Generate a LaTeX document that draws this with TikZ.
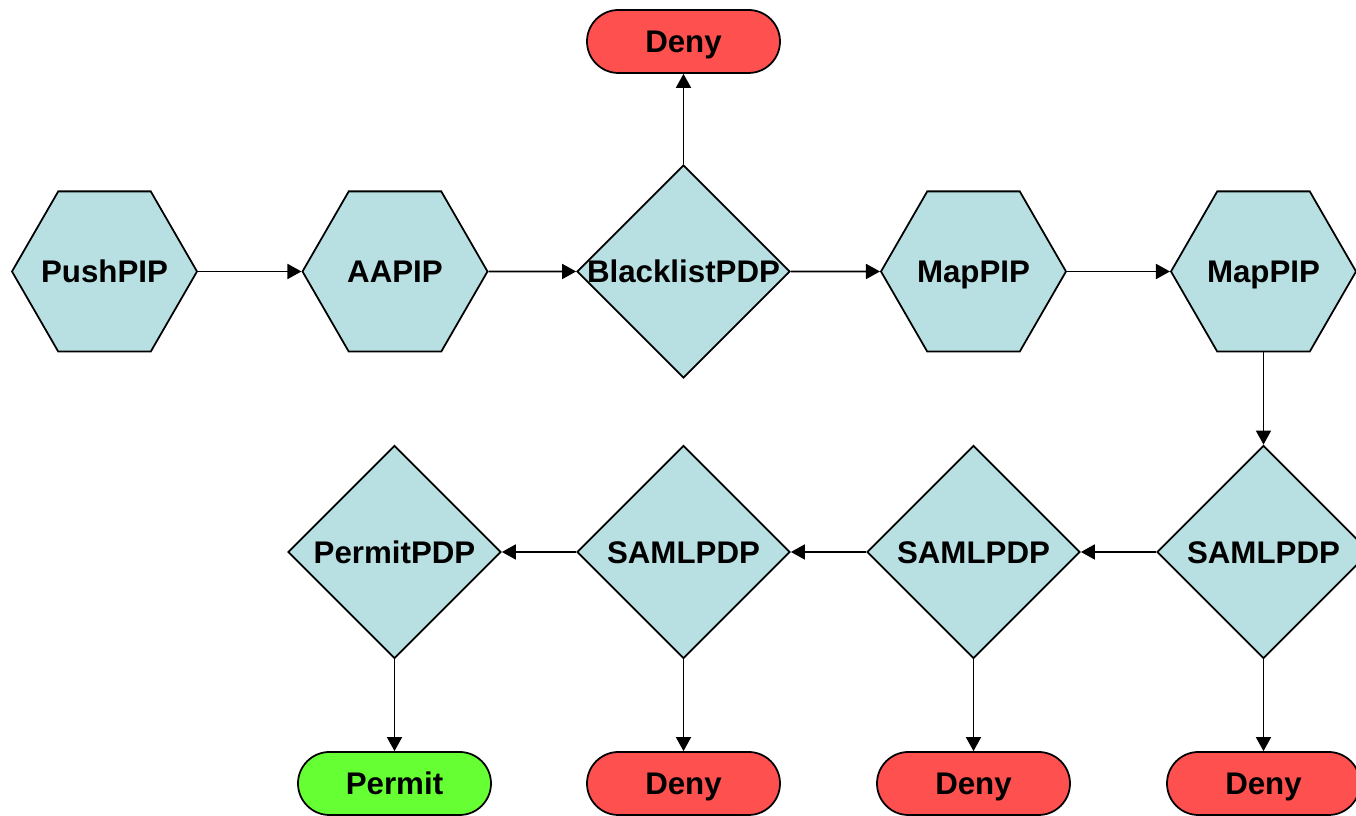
\documentclass[tikz,border=0pt]{standalone}
\usepackage{fontspec}
\setmainfont{Liberation Sans}
\usetikzlibrary{shapes.geometric,shapes.misc,arrows.meta}
\definecolor{pipBlue}{RGB}{184,224,227}
\definecolor{denyRed}{RGB}{255,80,80}
\definecolor{permitGreen}{RGB}{102,255,51}
\begin{document}
\begin{tikzpicture}
\tikzset{
    acText/.style={font=\bfseries\fontsize{17.8}{20}\selectfont,text height=12.7pt,text depth=0pt},
    acHex/.style={acText,regular polygon,regular polygon sides=6,draw=black,fill=pipBlue,minimum size=3.7cm,inner sep=0pt,line width=1pt},
    acDec/.style={acText,diamond,draw=black,fill=pipBlue,minimum width=4.26cm,minimum height=4.26cm,inner sep=0pt,line width=1pt},
    acEnd/.style={acText,rounded rectangle,draw=black,minimum width=3.86cm,minimum height=1.26cm,inner sep=0pt,line width=1pt},
    acFlow/.style={line width=1pt,-{Triangle[length=0.28cm,width=0.3cm]}},
}
\useasboundingbox (0,0) rectangle (27.12,16.32);

% first row
\node[acHex] (push) at (2.09,10.89) {\makebox[0pt]{PushPIP}};
\node[acHex] (aa) at (7.90,10.89) {\makebox[0pt]{AAPIP}};
\node[acDec] (black) at (13.67,10.89) {\makebox[0pt]{BlacklistPDP}};
\node[acHex] (mapA) at (19.47,10.89) {\makebox[0pt]{MapPIP}};
\node[acHex] (mapB) at (25.27,10.89) {\makebox[0pt]{MapPIP}};
\node[acEnd,fill=denyRed] (denyT) at (13.67,15.49) {Deny};

% second row
\node[acDec] (permitDec) at (7.89,5.28) {\makebox[0pt]{PermitPDP}};
\node[acDec] (samlA) at (13.67,5.28) {\makebox[0pt]{SAMLPDP}};
\node[acDec] (samlB) at (19.47,5.28) {\makebox[0pt]{SAMLPDP}};
\node[acDec] (samlC) at (25.27,5.28) {\makebox[0pt]{SAMLPDP}};

% outcomes
\node[acEnd,fill=permitGreen] (permit) at (7.89,0.65) {Permit};
\node[acEnd,fill=denyRed] (denyA) at (13.67,0.65) {Deny};
\node[acEnd,fill=denyRed] (denyB) at (19.47,0.65) {Deny};
\node[acEnd,fill=denyRed] (denyC) at (25.27,0.65) {Deny};

\draw[acFlow] (push.east) -- (aa.west);
\draw[acFlow] (aa.east) -- (black.west);
\draw[acFlow] (black.east) -- (mapA.west);
\draw[acFlow] (mapA.east) -- (mapB.west);
\draw[acFlow] (black.north) -- (denyT.south);
\draw[acFlow] (mapB.south) -- (samlC.north);
\draw[acFlow] (samlC.west) -- (samlB.east);
\draw[acFlow] (samlB.west) -- (samlA.east);
\draw[acFlow] (samlA.west) -- (permitDec.east);
\draw[acFlow] (permitDec.south) -- (permit.north);
\draw[acFlow] (samlA.south) -- (denyA.north);
\draw[acFlow] (samlB.south) -- (denyB.north);
\draw[acFlow] (samlC.south) -- (denyC.north);
\end{tikzpicture}
\end{document}
